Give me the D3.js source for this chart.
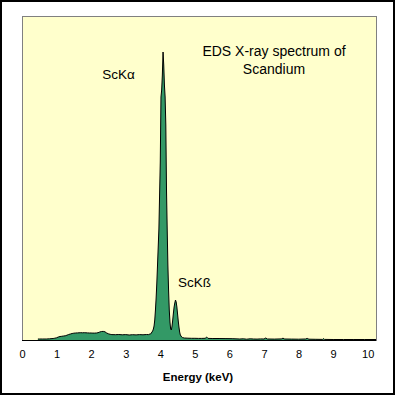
<!DOCTYPE html>
<html><head><meta charset="utf-8">
<script src="https://cdn.jsdelivr.net/npm/d3@7"></script>
<style>html,body{margin:0;padding:0;background:#fff}svg{display:block}</style>
</head><body>
<script>
// Energy (keV) of each sample and counts
const energy = [
 0.46,0.5,0.6,0.7,0.8,0.9,0.95,1.0,1.05,1.1,1.15,1.2,1.25,1.3,1.35,1.4,1.45,1.5,1.55,1.6,1.65,1.7,1.75,1.8,1.85,1.9,1.95,2.0,2.05,2.1,2.15,2.2,2.25,2.3,2.35,2.4,2.45,2.5,2.55,2.6,2.7,2.8,2.9,3.0,3.1,3.2,3.3,3.4,3.5,3.6,3.66,
 3.70,3.72,3.74,3.76,3.78,3.80,3.82,3.84,3.86,3.88,3.90,3.92,3.94,3.96,3.98,4.00,4.02,4.04,4.06,4.08,4.10,4.12,4.14,4.16,4.18,4.20,4.22,4.24,4.26,4.28,4.30,4.32,4.34,4.36,4.38,4.40,4.42,4.44,4.46,4.48,4.50,4.52,4.54,4.56,4.58,4.60,4.62,4.64,4.66,
 4.7,4.8,4.9,5.0,5.1,5.2,5.3,5.34,5.38,5.5,5.7,5.9,6.1,6.3,6.4,6.5,6.6,6.7,6.8,6.9,7.0,7.05,7.1,7.3,7.5,7.55,7.6,7.8,8.0,8.2,8.25,8.3,8.5,8.7,8.72,8.75,9.0,9.3,9.6,9.9,10.24
];
const counts = [
 10,10,10,10,12,15,18,22,30,35,37,40,42,48,55,60,65,68,70,71,72,73,72,73,72,71,70,70,69,69,70,73,80,85,86,82,70,62,57,54,53,55,52,54,50,53,51,54,52,55,54,
 60,60,70,80,90,110,140,200,300,420,570,750,930,1110,1450,1780,2430,2500,2650,2880,2750,2550,2430,2150,1500,1110,750,500,300,180,110,100,140,200,270,330,370,400,380,330,260,190,130,80,50,40,30,25,23,
 20,18,17,17,16,16,17,30,16,15,15,14,13,10,12,8,12,10,9,11,10,20,10,9,11,18,10,9,8,10,16,8,7,6,14,6,5,5,5,5,5
];
const xTicks = [0,1,2,3,4,5,6,7,8,9,10];
const peakLabels = ["ScKα", "ScKß"];
const peakLabelEnergy = [2.79, 4.99];
const titleLines = ["EDS X-ray spectrum of", "Scandium"];
const xTitle = "Energy (keV)";

const W = 396, H = 396;
const svg = d3.select("body").append("svg").attr("width", W).attr("height", H);
svg.append("rect").attr("x",0).attr("y",0).attr("width",W).attr("height",H).attr("fill","#fff");
svg.append("rect").attr("x",1).attr("y",1).attr("width",393).attr("height",393)
  .attr("fill","none").attr("stroke","#000").attr("stroke-width",2);

const L = 22, T = 16, R = 376, B = 340;
const x = d3.scaleLinear().domain([0, 10.24]).range([L, R]);
const y = d3.scaleLinear().domain([0, 3240]).range([B, T]);

svg.append("rect").attr("x",L).attr("y",T+0.5).attr("width",R-L).attr("height",B-T)
  .attr("fill","#FFFFCC").attr("stroke","#808080").attr("stroke-width",1)
  .attr("transform","translate(0.5,0)");

const data = energy.map((e,i)=>({e, c: counts[i]}));
svg.append("path").datum(data)
  .attr("d", d3.area().x(d=>x(d.e)).y0(y(0)).y1(d=>y(d.c)))
  .attr("fill","#339966");
svg.append("path").datum(data)
  .attr("d", d3.line().x(d=>x(d.e)).y(d=>y(d.c)))
  .attr("fill","none").attr("stroke","#000").attr("stroke-width",1);

const xAxis = d3.axisBottom(x).tickValues(xTicks).tickSize(0).tickPadding(10).tickFormat(d3.format("d"));
const ax = svg.append("g").attr("transform",`translate(0,${B})`).call(xAxis);
ax.select(".domain").attr("stroke","#000").attr("d",`M${L},0.5H${R}`);
ax.selectAll("text").attr("font-family","Arial, 'Liberation Sans', sans-serif")
  .attr("font-size","11px").attr("fill","#000");

svg.append("text").attr("x",198).attr("y",381).attr("text-anchor","middle")
  .attr("font-family","Arial, 'Liberation Sans', sans-serif").attr("font-size","11.5px")
  .attr("font-weight","bold").text(xTitle);

const tf = "Arial, 'Liberation Sans', sans-serif";
titleLines.forEach((t,i)=>{
  svg.append("text").attr("x",274).attr("y",56+i*18).attr("text-anchor","middle")
    .attr("font-family",tf).attr("font-size","14px").attr("fill","#000").text(t);
});
const labelY = [79, 287];
peakLabels.forEach((t,i)=>{
  svg.append("text").attr("x",x(peakLabelEnergy[i])).attr("y",labelY[i]).attr("text-anchor","middle")
    .attr("font-family",tf).attr("font-size","13.5px").attr("fill","#000").text(t);
});
</script>
</body></html>
